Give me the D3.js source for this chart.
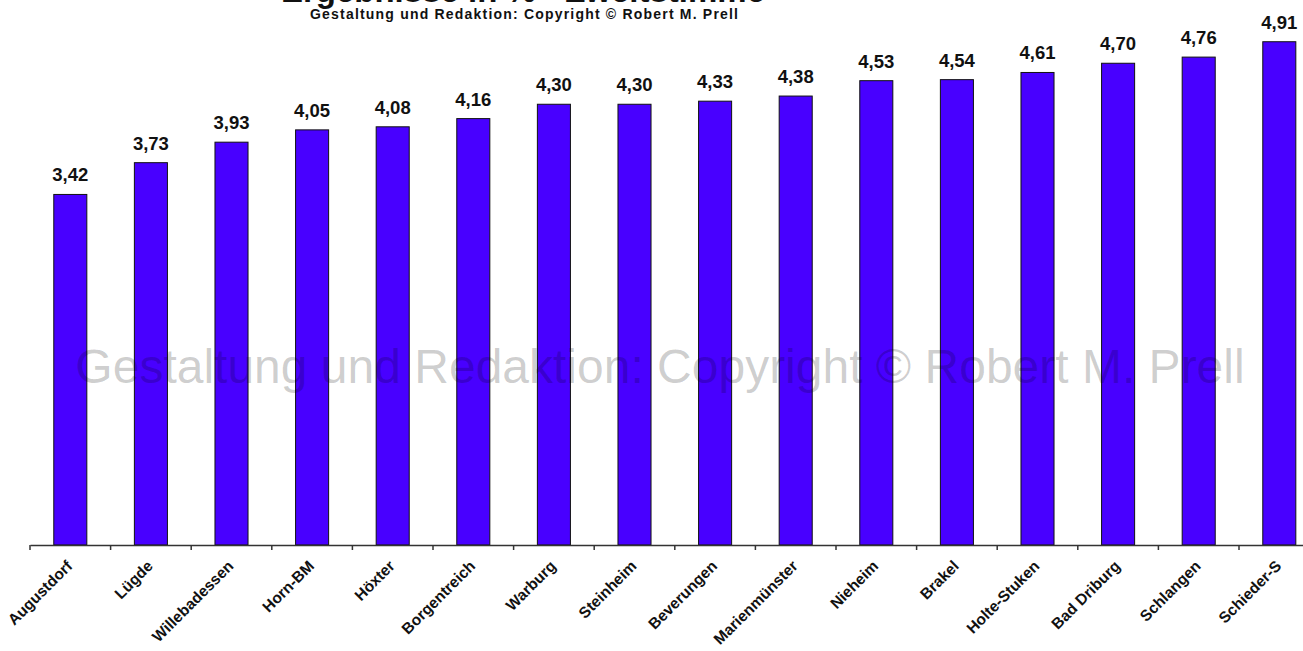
<!DOCTYPE html>
<html>
<head>
<meta charset="utf-8">
<script src="https://cdn.jsdelivr.net/npm/d3@7"></script>
<style>
  body { margin: 0; background: #fff; }
  text { font-family: "Liberation Sans", Arial, sans-serif; }
</style>
</head>
<body>
<div id="chart"></div>
<script>
// Daten
const orte = ["Augustdorf", "Lügde", "Willebadessen", "Horn-BM", "Höxter", "Borgentreich",
  "Warburg", "Steinheim", "Beverungen", "Marienmünster", "Nieheim", "Brakel",
  "Holte-Stuken", "Bad Driburg", "Schlangen", "Schieder-S"];
const werte = [3.42, 3.73, 3.93, 4.05, 4.08, 4.16, 4.30, 4.30, 4.33, 4.38, 4.53, 4.54,
  4.61, 4.70, 4.76, 4.91];
const titel = "Ergebnisse in % - Zweitstimme";
const untertitel = "Gestaltung und Redaktion: Copyright © Robert M. Prell";

const width = 1303, height = 651;
const margin = {left: 30, top: 32.5, bottom: 106};
const step = 80.6;

const svg = d3.select("#chart").append("svg")
  .attr("width", width)
  .attr("height", height);

const x = d3.scaleBand()
  .domain(orte)
  .range([margin.left, margin.left + step * orte.length])
  .paddingInner(0.59)
  .paddingOuter(0.295);

const y = d3.scaleLinear()
  .domain([0, 5])
  .range([height - margin.bottom, margin.top]);

// Titel (oben angeschnitten wie im Original)
svg.append("text")
  .attr("x", 523)
  .attr("y", 2)
  .attr("text-anchor", "middle")
  .attr("font-size", "33px")
  .attr("font-weight", "bold")
  .attr("fill", "#111")
  .text(titel);

svg.append("text")
  .attr("x", 524)
  .attr("y", 19)
  .attr("text-anchor", "middle")
  .attr("font-size", "14px")
  .attr("font-weight", "bold")
  .attr("fill", "#111")
  .attr("textLength", 428)
  .attr("lengthAdjust", "spacing")
  .text(untertitel);

const data = orte.map((o, i) => ({ort: o, wert: werte[i]}));

// Balken
svg.selectAll("rect.bar")
  .data(data)
  .enter()
  .append("rect")
    .attr("class", "bar")
    .attr("x", d => x(d.ort))
    .attr("y", d => y(d.wert))
    .attr("width", x.bandwidth())
    .attr("height", d => y(0) - y(d.wert))
    .attr("fill", "#4800ff")
    .attr("stroke", "#111")
    .attr("stroke-width", 1);

// Werte
svg.selectAll("text.wert")
  .data(data)
  .enter()
  .append("text")
    .attr("class", "wert")
    .attr("x", d => x(d.ort) + x.bandwidth() / 2)
    .attr("y", d => y(d.wert) - 13)
    .attr("text-anchor", "middle")
    .attr("font-size", "18.5px")
    .attr("font-weight", "bold")
    .attr("fill", "#111")
    .text(d => d3.format(".2f")(d.wert).replace(".", ","));

// x-Achse
const xAxis = svg.append("g")
  .attr("transform", `translate(0,${y(0)})`)
  .call(d3.axisBottom(x).tickSize(0).tickSizeOuter(0));

xAxis.select(".domain").attr("stroke", "#333").attr("stroke-width", 1.5);

// Trennstriche zwischen den Kategorien
xAxis.selectAll("line.sep")
  .data(orte)
  .enter()
  .append("line")
    .attr("class", "sep")
    .attr("x1", d => x(d) - x.step() * x.paddingOuter())
    .attr("x2", d => x(d) - x.step() * x.paddingOuter())
    .attr("y1", 0)
    .attr("y2", 5)
    .attr("stroke", "#333")
    .attr("stroke-width", 1.5);

xAxis.selectAll(".tick text")
  .attr("font-family", "'Liberation Sans', Arial, sans-serif")
  .attr("font-size", "15.5px")
  .attr("font-weight", "bold")
  .attr("fill", "#111")
  .attr("text-anchor", "end")
  .attr("dy", null)
  .attr("y", 0)
  .attr("transform", "translate(3,22) rotate(-45)");

// Wasserzeichen (halbtransparent über den Balken)
svg.append("text")
  .attr("x", 660)
  .attr("y", 383)
  .attr("text-anchor", "middle")
  .attr("font-size", "48px")
  .attr("fill", "#000")
  .attr("fill-opacity", 0.2)
  .text(untertitel);
</script>
</body>
</html>
